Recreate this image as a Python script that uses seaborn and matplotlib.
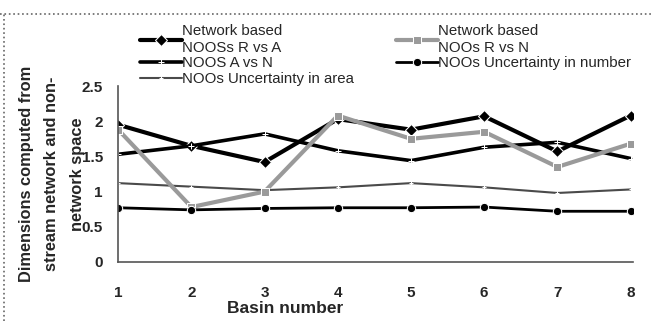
import numpy as np
import pandas as pd
import matplotlib
matplotlib.use("Agg")
import matplotlib.pyplot as plt
import seaborn as sns
from matplotlib.lines import Line2D

# ============================================================
# DATA
# ============================================================
basins = [1, 2, 3, 4, 5, 6, 7, 8]

r_vs_a = [1.95, 1.65, 1.42, 2.03, 1.88, 2.07, 1.57, 2.08]
r_vs_n = [1.88, 0.78, 1.0, 2.08, 1.75, 1.85, 1.35, 1.68]
a_vs_n = [1.53, 1.65, 1.82, 1.58, 1.44, 1.63, 1.7, 1.47]
unc_area = [1.12, 1.07, 1.02, 1.06, 1.12, 1.06, 0.98, 1.03]
unc_number = [0.77, 0.74, 0.76, 0.77, 0.77, 0.78, 0.72, 0.72]

labels = ["Network based\nNOOSs R vs A",
          "NOOS A vs N",
          "NOOs Uncertainty in area",
          "Network based\nNOOs R vs N",
          "NOOs Uncertainty in number"]

# ============================================================
# PLOT
# ============================================================
sns.set_style("white")
plt.rcParams['font.family'] = ['Liberation Sans', 'DejaVu Sans']

fig = plt.figure(figsize=(6.53, 3.21), dpi=100)
ax = fig.add_axes([0.181, 0.184, 0.788, 0.548])

series = [
    (r_vs_a, dict(color="black", marker="D", markersize=6, linewidth=3)),
    (a_vs_n, dict(color="black", marker="+", markersize=4, linewidth=2.6)),
    (unc_area, dict(color="#4a4a4a", marker="+", markersize=3, linewidth=1.5)),
    (r_vs_n, dict(color="#9a9a9a", marker="s", markersize=6, linewidth=3)),
    (unc_number, dict(color="black", marker="o", markersize=6, linewidth=2)),
]

for (vals, style), lab in zip(series, labels):
    df = pd.DataFrame({"basin": basins, "value": vals})
    sns.lineplot(data=df, x="basin", y="value", ax=ax, label=lab, **style)

ax.set_xlim(1, 8.03)
ax.set_ylim(0, 2.5)
ax.set_xticks(basins)
ax.set_yticks([0, 0.5, 1, 1.5, 2, 2.5])
ax.set_yticklabels(["0", "0.5", "1", "1.5", "2", "2.5"])
ax.tick_params(axis="both", labelsize=11, length=3, color="#555555", pad=14)
ax.tick_params(axis="y", pad=8, direction="out")
for lbl in ax.get_xticklabels() + ax.get_yticklabels():
    lbl.set_fontweight("bold")

sns.despine(ax=ax)
for s in ["left", "bottom"]:
    ax.spines[s].set_color("#555555")
    ax.spines[s].set_linewidth(1.2)

ax.set_xlabel("Basin number", fontsize=12.5, fontweight="bold", labelpad=0)
ax.xaxis.set_label_coords(0.324, -0.22)
ax.set_ylabel("Dimensions computed from\nstream network and non-\nnetwork space",
              fontsize=11.8, fontweight="bold", linespacing=1.9)
ax.yaxis.set_label_coords(-0.064, 0.5)

ax.legend(loc="upper left", bbox_to_anchor=(0.214, 0.924),
          bbox_transform=fig.transFigure, ncol=2, frameon=False,
          fontsize=10.8, handlelength=2.8, handletextpad=0.0,
          columnspacing=2.8, labelspacing=0.12, borderaxespad=0,
          borderpad=0)

# scanned-page frame
fig.add_artist(Line2D([0.0, 1.0], [0.957, 0.957], transform=fig.transFigure,
                      color="#666666", linewidth=1.2, linestyle=":"))
fig.add_artist(Line2D([0.006, 0.006], [0.0, 0.957], transform=fig.transFigure,
                      color="#666666", linewidth=1.2, linestyle=":"))

plt.savefig("out.png", dpi=100)
